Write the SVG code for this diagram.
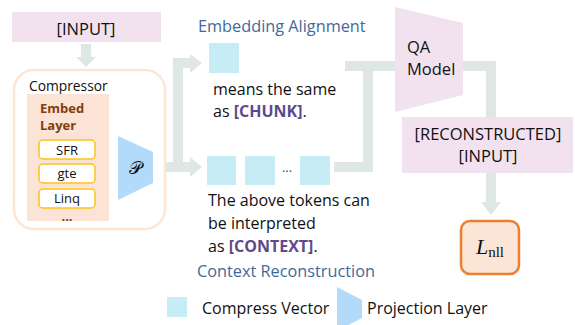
<svg xmlns="http://www.w3.org/2000/svg" width="575" height="325" viewBox="0 0 575 325">
  <defs>
    <style>
      text { font-family: "Open Sans", "Liberation Sans", sans-serif; fill: #111; }
      .conn { fill: none; stroke: #dfe7e5; stroke-width: 10; }
      .head { fill: #dfe7e5; }
      .pink { fill: #f2e2f0; }
      .token { fill: #c6edf5; }
      .proj { fill: #b3dbf9; }
      .caption { fill: #41699c; font-size: 16.3px; }
      .body { font-size: 16px; }
      .tag { fill: #5e4a8a; font-weight: bold; }
      .chip { fill: #fff; stroke: #ffc21a; stroke-width: 1.5; }
      .chiptxt { font-size: 13px; text-anchor: middle; }
      .embed { font-size: 13px; font-weight: bold; fill: #843c0c; }
    </style>
  </defs>

  <!-- connectors -->
  <g id="connectors">
    <!-- input to compressor -->
    <path class="conn" d="M86,44 V58"/>
    <polygon class="head" points="76,57 96,57 86,67"/>
    <!-- projection to context tokens -->
    <path class="conn" d="M140,167 H191"/>
    <polygon class="head" points="190,157 202,167 190,177"/>
    <!-- branch up to alignment token -->
    <path class="conn" d="M178,167 V63 H191"/>
    <polygon class="head" points="190,54 202,63 190,73"/>
    <!-- context tokens to QA model -->
    <path class="conn" d="M334,167 H368 V66"/>
    <path class="conn" d="M345,66 H398"/>
    <!-- QA model to reconstruction -->
    <path class="conn" d="M460,66 H491 V203"/>
    <polygon class="head" points="481,202 501,202 491,215"/>
  </g>

  <!-- input box -->
  <g id="input">
    <rect class="pink" x="12" y="12" width="149" height="30"/>
    <text x="86" y="34.5" text-anchor="middle" font-size="16.5">[INPUT]</text>
  </g>

  <!-- compressor with embed layer and projection -->
  <g id="compressor">
    <rect x="14" y="70" width="151" height="159" rx="20" fill="#fff" stroke="#fde7d4" stroke-width="2.5"/>
    <text x="29" y="91" font-size="13.8">Compressor</text>
  </g>

  <g id="embed-layer">
    <rect x="27" y="94" width="82" height="127" fill="#fbe3d5"/>
    <text class="embed" x="40" y="113">Embed</text>
    <text class="embed" x="40" y="130">Layer</text>
    <rect class="chip" x="39" y="140" width="56" height="19" rx="4"/>
    <text class="chiptxt" x="67" y="155">SFR</text>
    <rect class="chip" x="39" y="164" width="56" height="19" rx="4"/>
    <text class="chiptxt" x="67" y="178">gte</text>
    <rect class="chip" x="39" y="189" width="56" height="19" rx="4"/>
    <text class="chiptxt" x="67" y="203">Linq</text>
    <text class="embed" x="67" y="221" text-anchor="middle" font-weight="normal" font-size="10">...</text>
  </g>

  <g id="projection">
    <polygon class="proj" points="118,136 153,152 153,183 118,200"/>
    <text x="135" y="174" text-anchor="middle" font-size="18" style="font-family:'DejaVu Serif','Liberation Serif',serif">𝒫</text>
  </g>

  <!-- embedding alignment -->
  <g id="alignment">
    <text class="caption" x="198" y="32">Embedding Alignment</text>
    <rect class="token" x="209" y="43" width="30" height="30"/>
    <text class="body" x="213" y="95">means the same</text>
    <text class="body" x="213" y="117">as <tspan class="tag">[CHUNK]</tspan>.</text>
  </g>

  <!-- context reconstruction -->
  <g id="reconstruction">
    <rect class="token" x="207" y="156" width="29" height="29"/>
    <rect class="token" x="245" y="156" width="30" height="29"/>
    <text x="287" y="172" text-anchor="middle" font-size="13" style="fill:#2f4f8f">...</text>
    <rect class="token" x="300" y="156" width="30" height="29"/>
    <text class="body" x="208" y="206">The above tokens can</text>
    <text class="body" x="208" y="229">be interpreted</text>
    <text class="body" x="208" y="252">as <tspan class="tag">[CONTEXT]</tspan>.</text>
    <text class="caption" x="197" y="277">Context Reconstruction</text>
  </g>

  <!-- QA model -->
  <g id="qa-model">
    <polygon class="pink" points="395,7 463,23 463,95 395,112"/>
    <text x="407" y="53" font-size="16.5">QA</text>
    <text x="407" y="75" font-size="16.5">Model</text>
  </g>

  <!-- reconstructed input -->
  <g id="reconstructed">
    <rect class="pink" x="402" y="117" width="171" height="56"/>
    <text x="488" y="140" text-anchor="middle" font-size="16.5">[RECONSTRUCTED]</text>
    <text x="488" y="162" text-anchor="middle" font-size="16.5">[INPUT]</text>
  </g>

  <!-- loss -->
  <g id="loss">
    <rect x="461" y="221" width="58" height="53" rx="9" fill="#fbe5d6" stroke="#ed7d31" stroke-width="2.5"/>
    <text x="490" y="254" text-anchor="middle" style="font-family:'Liberation Serif','DejaVu Serif',serif"><tspan font-size="22" font-style="italic">L</tspan><tspan font-size="15" dy="3">nll</tspan></text>
  </g>

  <!-- legend -->
  <g id="legend">
    <rect class="token" x="167" y="297" width="20" height="20"/>
    <text class="body" x="202" y="314">Compress Vector</text>
    <polygon class="proj" points="337,287 362,300 362,318 337,331"/>
    <text class="body" x="367" y="314">Projection Layer</text>
  </g>
</svg>
